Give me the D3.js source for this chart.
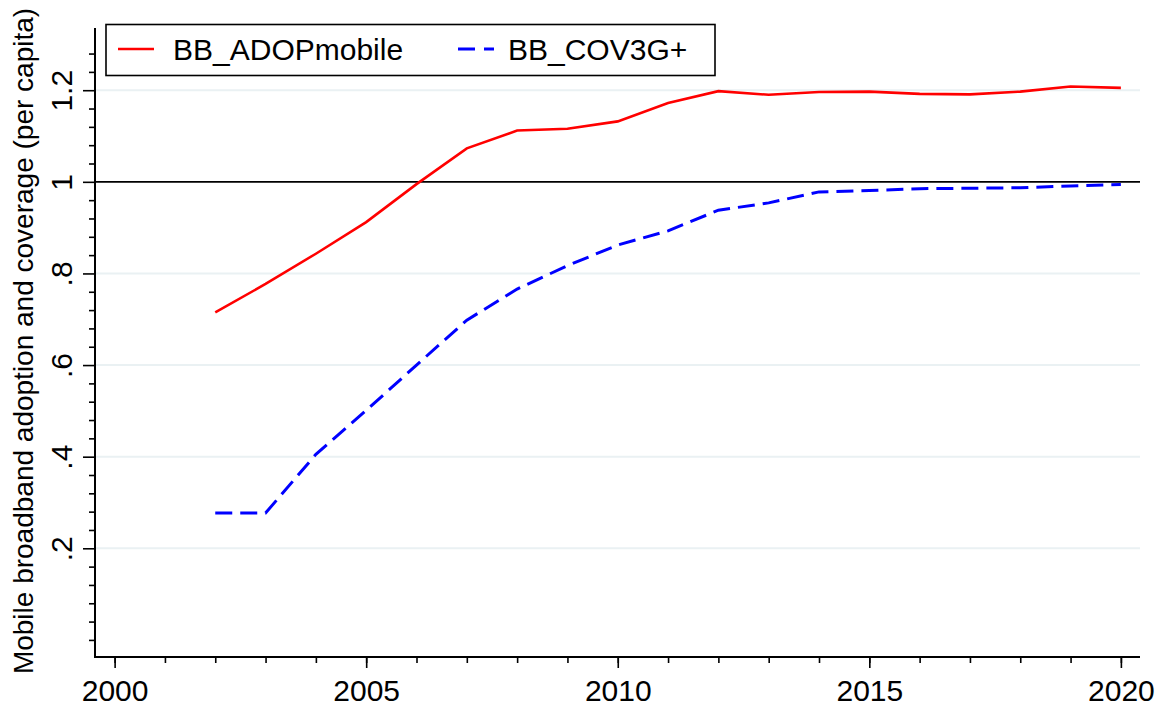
<!DOCTYPE html>
<html>
<head>
<meta charset="utf-8">
<script src="https://cdn.jsdelivr.net/npm/d3@7"></script>
<style>
    body { margin: 0; background: #fff; }
    text { font-family: "Liberation Sans", Arial, sans-serif; fill: #000; }
</style>
</head>
<body>
<div id="chart"></div>
<script>
// data
const years = [2002, 2003, 2004, 2005, 2006, 2007, 2008, 2009, 2010, 2011,
    2012, 2013, 2014, 2015, 2016, 2017, 2018, 2019, 2020];
const adopMobile = [0.715, 0.777, 0.843, 0.912, 0.995, 1.073, 1.112, 1.116, 1.132, 1.172,
    1.198, 1.190, 1.196, 1.197, 1.192, 1.191, 1.197, 1.208, 1.205];
const cov3g = [0.277, 0.277, 0.405, 0.501, 0.600, 0.698, 0.766, 0.817, 0.862, 0.893,
    0.938, 0.954, 0.978, 0.981, 0.985, 0.986, 0.987, 0.991, 0.994];
const seriesNames = ["BB_ADOPmobile", "BB_COV3G+"];
const xTicks = [2000, 2005, 2010, 2015, 2020];
const yTicks = [0.2, 0.4, 0.6, 0.8, 1, 1.2];
const yTickLabels = [".2", ".4", ".6", ".8", "1", "1.2"];
const xMinor = [2000, 2001, 2002, 2003, 2004, 2005, 2006, 2007, 2008, 2009, 2010,
    2011, 2012, 2013, 2014, 2015, 2016, 2017, 2018, 2019, 2020];
const yMinor = [0, 0.04, 0.08, 0.12, 0.16, 0.24, 0.28, 0.32, 0.36, 0.44, 0.48, 0.52, 0.56,
    0.64, 0.68, 0.72, 0.76, 0.84, 0.88, 0.92, 0.96, 1.04, 1.08, 1.12, 1.16, 1.24, 1.28];
const refLine = 1;
const yTitle = "Mobile broadband adoption and coverage (per capita)";

const chartWidth = 1166;
const chartHeight = 711;
var plotLeft = 95, plotRight = 1140, plotTop = 28, plotBottom = 657;

var svg = d3.select("#chart").append("svg")
    .attr("width", chartWidth)
    .attr("height", chartHeight);

var x = d3.scaleLinear().domain([1999.61, 2020.38]).range([plotLeft, plotRight]);
var y = d3.scaleLinear().domain([-0.0373, 1.3358]).range([plotBottom, plotTop]);

// grid
svg.selectAll(".grid")
    .data(yTicks.filter(function(d) { return d !== refLine; }))
    .enter()
    .append("line")
    .attr("x1", plotLeft).attr("x2", plotRight)
    .attr("y1", function(d) { return y(d); })
    .attr("y2", function(d) { return y(d); })
    .style("stroke", "#eaf1f3")
    .style("stroke-width", 2);

// reference line at 1
svg.append("line")
    .attr("x1", plotLeft).attr("x2", plotRight)
    .attr("y1", y(refLine)).attr("y2", y(refLine))
    .style("stroke", "#000")
    .style("stroke-width", 1.6);

// y axis
var yAxis = d3.axisLeft(y).tickValues(yTicks).tickSize(12)
    .tickFormat(function(d, i) { return yTickLabels[i]; });
var gy = svg.append("g").attr("transform", "translate(" + plotLeft + ",0)").call(yAxis);
gy.select(".domain").remove();
gy.selectAll(".tick line").style("stroke", "#000").style("stroke-width", 1.6);
gy.selectAll(".tick text")
    .attr("x", 0).attr("dy", 0)
    .attr("transform", "translate(-23,0) rotate(-90)")
    .style("text-anchor", "middle")
    .style("font-size", "30px");

var yAxisMinor = d3.axisLeft(y).tickValues(yMinor).tickSize(6).tickFormat("");
var gym = svg.append("g").attr("transform", "translate(" + plotLeft + ",0)").call(yAxisMinor);
gym.select(".domain").remove();
gym.selectAll(".tick line").style("stroke", "#000").style("stroke-width", 1.6);

// x axis
var xAxis = d3.axisBottom(x).tickValues(xTicks).tickSize(11).tickFormat(d3.format("d"));
var gx = svg.append("g").attr("transform", "translate(0," + plotBottom + ")").call(xAxis);
gx.select(".domain").remove();
gx.selectAll(".tick line").style("stroke", "#000").style("stroke-width", 1.6);
gx.selectAll(".tick text")
    .attr("y", 44).attr("dy", 0)
    .style("font-size", "30px");

var xAxisMinor = d3.axisBottom(x).tickValues(xMinor).tickSize(6).tickFormat("");
var gxm = svg.append("g").attr("transform", "translate(0," + plotBottom + ")").call(xAxisMinor);
gxm.select(".domain").remove();
gxm.selectAll(".tick line").style("stroke", "#000").style("stroke-width", 1.6);

// axis lines
svg.append("path")
    .attr("d", "M" + plotLeft + "," + plotTop + "V" + plotBottom + "H" + plotRight)
    .style("fill", "none")
    .style("stroke", "#000")
    .style("stroke-width", 2);

// series
var line = d3.line()
    .x(function(d, i) { return x(years[i]); })
    .y(function(d) { return y(d); });

svg.append("path")
    .datum(adopMobile)
    .attr("d", line)
    .style("fill", "none")
    .style("stroke", "#ff0000")
    .style("stroke-width", 2.6);

svg.append("path")
    .datum(cov3g)
    .attr("d", line)
    .style("fill", "none")
    .style("stroke", "#0000ff")
    .style("stroke-width", 3)
    .style("stroke-dasharray", "17,8");

// y title
svg.append("text")
    .attr("transform", "translate(33," + 341 + ") rotate(-90)")
    .style("text-anchor", "middle")
    .style("font-size", "28px")
    .text(yTitle);

// legend
var legend = svg.append("g");
legend.append("rect")
    .attr("x", 106).attr("y", 24.5)
    .attr("width", 609).attr("height", 51)
    .style("fill", "#fff")
    .style("stroke", "#000")
    .style("stroke-width", 1.6);
legend.append("line")
    .attr("x1", 118).attr("x2", 154).attr("y1", 49).attr("y2", 49)
    .style("stroke", "#ff0000").style("stroke-width", 2.6);
legend.append("line")
    .attr("x1", 458).attr("x2", 494).attr("y1", 49).attr("y2", 49)
    .style("stroke", "#0000ff").style("stroke-width", 3)
    .style("stroke-dasharray", "17,9");
legend.selectAll("legend_text")
    .data(seriesNames)
    .enter()
    .append("text")
    .attr("x", function(d, i) { return i === 0 ? 173 : 508; })
    .attr("y", 60)
    .style("font-size", "30px")
    .text(function(d) { return d; });
</script>
</body>
</html>
